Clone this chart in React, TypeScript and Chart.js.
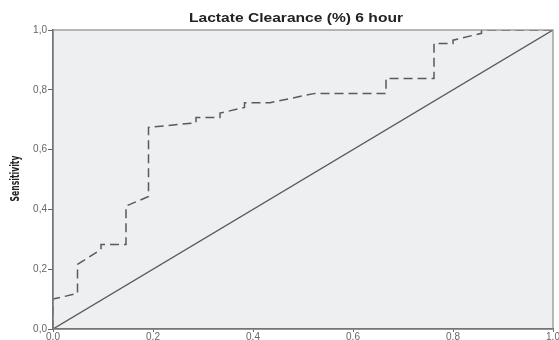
import React, { useEffect, useRef } from "react";
import { Chart, registerables } from "chart.js";

Chart.register(...registerables);

const chartTitle = "Lactate Clearance (%) 6 hour";
const yAxisTitle = "Sensitivity";
const tickValues = [0, 0.2, 0.4, 0.6, 0.8, 1.0];

// ROC curve (1 - specificity, sensitivity)
const fpr = [0, 0, 0.049, 0.049, 0.096, 0.096, 0.146, 0.146, 0.191, 0.191, 0.286, 0.286, 0.334, 0.334, 0.383, 0.383, 0.434, 0.524, 0.666, 0.666, 0.762, 0.762, 0.8, 0.8, 0.857, 0.857, 1.0];
const tpr = [0, 0.1, 0.119, 0.216, 0.266, 0.283, 0.283, 0.411, 0.443, 0.674, 0.69, 0.707, 0.707, 0.722, 0.741, 0.757, 0.757, 0.788, 0.788, 0.838, 0.838, 0.955, 0.955, 0.966, 0.989, 1.0, 1.0];

// Reference diagonal
const refX = [0, 1];
const refY = [0, 1];

const fmt = (v: number) => v.toFixed(1).replace(".", ",");

export default function App() {
  const ref = useRef<HTMLCanvasElement | null>(null);

  useEffect(() => {
    if (!ref.current) return;
    const decor = {
      id: "decor",
      beforeDraw(chart: any) {
        const { ctx, chartArea: a } = chart;
        ctx.save();
        ctx.fillStyle = "#eeeff1";
        ctx.fillRect(a.left, a.top, a.right - a.left, a.bottom - a.top);
        ctx.restore();
      },
      afterDatasetsDraw(chart: any) {
        const { ctx, chartArea: a } = chart;
        ctx.save();
        ctx.strokeStyle = "#8a8a8a";
        ctx.lineWidth = 1.2;
        ctx.strokeRect(a.left, a.top, a.right - a.left, a.bottom - a.top);
        ctx.restore();
      },
      afterDraw(chart: any) {
        const { ctx } = chart;
        // title
        ctx.save();
        ctx.fillStyle = "#222";
        ctx.font = "bold 12px 'Liberation Sans', Arial, sans-serif";
        ctx.textAlign = "center";
        ctx.textBaseline = "middle";
        const tw = ctx.measureText(chartTitle).width;
        ctx.translate(296, 19);
        ctx.scale(214 / tw, 1);
        ctx.fillText(chartTitle, 0, 0);
        ctx.restore();
        // y-axis title
        ctx.save();
        ctx.fillStyle = "#222";
        ctx.font = "bold 13px 'Liberation Sans Narrow', 'DejaVu Sans Condensed', Arial, sans-serif";
        ctx.textAlign = "center";
        ctx.textBaseline = "middle";
        const yw = ctx.measureText(yAxisTitle).width;
        ctx.translate(16, 178.5);
        ctx.rotate(-Math.PI / 2);
        ctx.scale(46 / yw, 1);
        ctx.fillText(yAxisTitle, 0, 0);
        ctx.restore();
      },
    };

    const tickCfg = {
      color: "#666",
      font: { size: 10, family: "'Liberation Sans', Arial, sans-serif" },
      callback: (v: any) => fmt(Number(v)),
    };

    const chart = new Chart(ref.current, {
      type: "scatter",
      data: {
        datasets: [
          {
            data: fpr.map((x, i) => ({ x, y: tpr[i] })),
            showLine: true,
            borderColor: "#5a5a5a",
            borderWidth: 1.5,
            borderDash: [9, 5],
            pointRadius: 0,
            fill: false,
            tension: 0,
          },
          {
            data: refX.map((x, i) => ({ x, y: refY[i] })),
            showLine: true,
            borderColor: "#585858",
            borderWidth: 1.3,
            pointRadius: 0,
            fill: false,
          },
        ],
      },
      options: {
        animation: false,
        responsive: false,
        layout: { padding: { top: 30, right: 6, left: 0, bottom: 0 } },
        plugins: { legend: { display: false }, tooltip: { enabled: false }, title: { display: false } },
        scales: {
          x: {
            type: "linear",
            min: 0,
            max: 1,
            afterBuildTicks: (s: any) => { s.ticks = tickValues.map((v) => ({ value: v })); },
            afterFit: (s: any) => { s.height = 11; },
            ticks: { ...tickCfg, padding: -1, maxRotation: 0, autoSkip: false },
            grid: { display: true, drawOnChartArea: false, drawTicks: true, tickLength: 3, color: "#666" },
            border: { display: true, color: "#555", width: 1.5 },
          },
          y: {
            type: "linear",
            min: 0,
            max: 1,
            afterBuildTicks: (s: any) => { s.ticks = tickValues.map((v) => ({ value: v })); },
            afterFit: (s: any) => { s.width = 53; },
            ticks: { ...tickCfg, padding: 1, autoSkip: false },
            grid: { display: true, drawOnChartArea: false, drawTicks: true, tickLength: 5, color: "#666" },
            border: { display: true, color: "#555", width: 1.5 },
          },
        },
      },
      plugins: [decor],
    } as any);
    return () => chart.destroy();
  }, []);

  return (
    <div style={{ position: "absolute", left: 0, top: 0, width: 559, height: 340, background: "#fff" }}>
      <canvas ref={ref} width={559} height={340} style={{ display: "block" }} />
    </div>
  );
}
